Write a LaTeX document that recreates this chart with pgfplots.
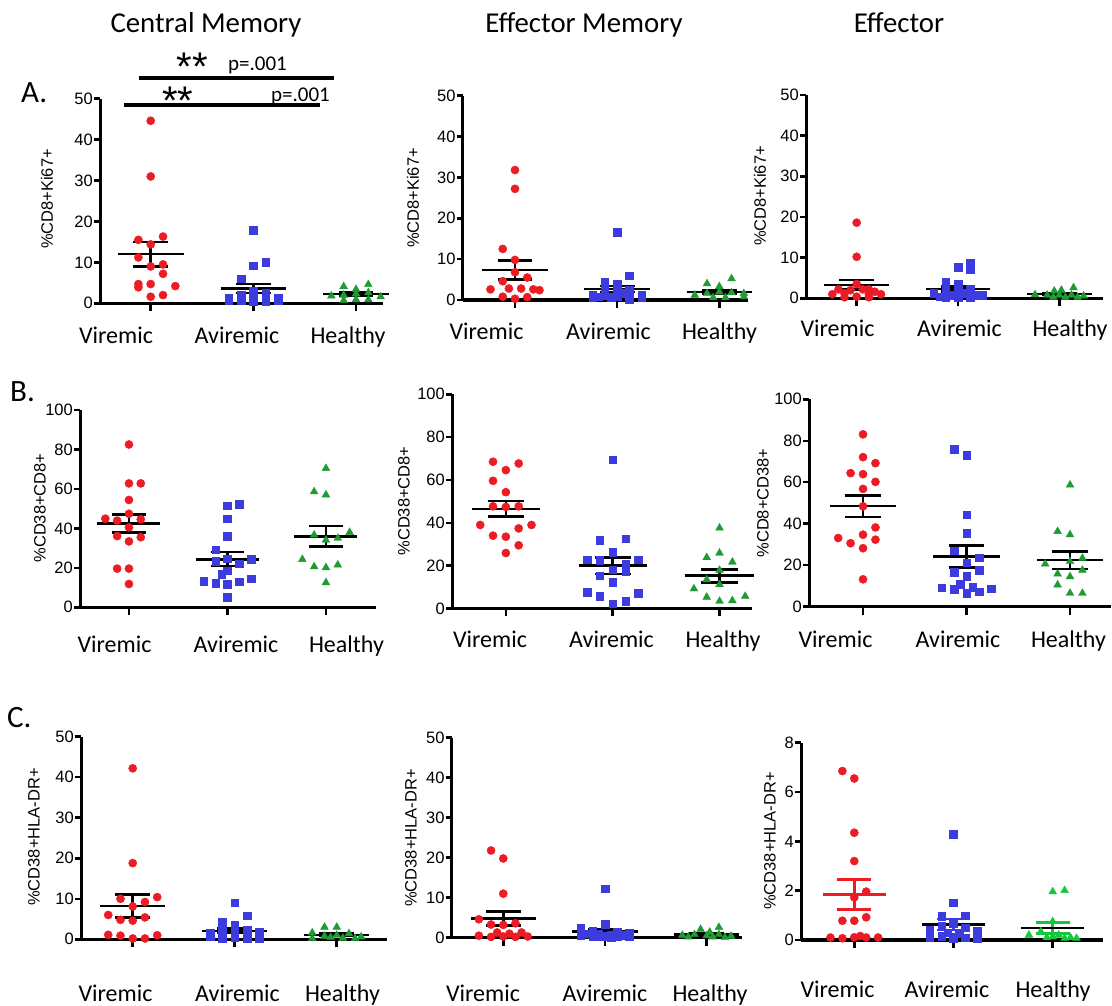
\documentclass[border=0pt]{standalone}
\usepackage{pgfplots}
\pgfplotsset{compat=1.18}
\usepackage{fontspec}
\setmainfont{Carlito}
\newfontfamily\arial{Liberation Sans}
\definecolor{vred}{RGB}{237,28,36}
\definecolor{vblue}{RGB}{60,60,222}
\definecolor{vgreen}{RGB}{30,155,50}
\definecolor{vgreen2}{RGB}{20,200,60}
\newcommand\tf{\arial\fontsize{16.5}{17}\selectfont}
\newcommand\cf{\fontsize{24}{26}\selectfont}
\pgfplotsset{
 dp/.style={scale only axis, anchor=south west, axis lines=left,
  x axis line style={line width=3.5pt,-}, y axis line style={line width=3pt,-},
  tick align=outside, major tick length=6pt,
  tick style={line width=2.5pt, black},
  xtick={0,1,2}, xticklabels={,,}, xtick style={/pgfplots/major tick length=8pt},
  ymin=0, clip=false,
  yticklabel style={font=\tf, inner sep=1pt},
  /pgf/number format/assume math mode=true,
 },
 rp/.style={only marks, mark=*, mark size=4.1pt, color=vred, mark options={draw=none, fill=vred}},
 bp/.style={only marks, mark=square*, mark size=3.8pt, color=vblue, mark options={draw=none, fill=vblue}},
 gp/.style={only marks, mark=triangle*, mark size=4.5pt, color=vgreen, mark options={draw=none, fill=vgreen}},
 gp2/.style={only marks, mark=triangle*, mark size=4.5pt, color=vgreen2, mark options={draw=none, fill=vgreen2}},
}
\newcommand{\msem}[6]{%
 \pgfmathsetmacro\xa{#3-0.32}\pgfmathsetmacro\xb{#3+0.32}%
 \pgfmathsetmacro\ca{#3-0.17}\pgfmathsetmacro\cb{#3+0.17}%
 \addplot[#2, line width=2.5pt] coordinates {(#3,#5) (#3,#6)};
 \addplot[#2, line width=2.5pt] coordinates {(\ca,#5) (\cb,#5)};
 \addplot[#2, line width=2.5pt] coordinates {(\ca,#6) (\cb,#6)};
 \addplot[#1, line width=2.5pt] coordinates {(\xa,#4) (\xb,#4)};
}
\newcommand\cats[4]{%
 \node[font=\cf,anchor=base,inner sep=0] at (#2pt,#1pt){Viremic};
 \node[font=\cf,anchor=base,inner sep=0] at (#3pt,#1pt){Aviremic};
 \node[font=\cf,anchor=base,inner sep=0] at (#4pt,#1pt){Healthy};}
\newcommand\yl[3]{\node[font=\tf, rotate=90, inner sep=0] at (#1pt,#2pt){#3};}
\begin{document}
\begin{tikzpicture}[x=1pt,y=1pt]
\useasboundingbox (0,0) rectangle (1112,1006);
% ---------------- Row A
\begin{axis}[dp, at={(100pt,702.7pt)}, width=283pt, height=204.6pt, xmin=-0.494, xmax=2.263, ymax=50, ytick={0,10,...,50}]
\addplot[rp] coordinates {(0,44.6) (0,31) (-0.12,15.5) (0,14.4) (0.12,16.3) (-0.12,11.2) (0,9.0) (0.12,9.5) (0.12,7.2) (-0.12,4.7) (-0.12,3.9) (0,4.7) (0.24,4.2) (0.12,2.0) (0,1.6)};
\addplot[bp] coordinates {(1,17.9) (1.12,10.0) (1,9.2) (0.88,6.0) (0.76,1.2) (0.88,2.1) (1,3.1) (1.12,2.5) (1.24,1.2) (0.88,0.8) (1,0.4) (1.12,0.4) (1.24,0.7) (0.76,0.6) (1,1.8) (1.12,1.3) (0.88,1.4)};
\addplot[gp] coordinates {(1.88,4.1) (2.12,4.6) (2,3.4) (1.76,1.8) (1.88,2.0) (2,2.3) (2.12,2.6) (2.24,1.6) (2,0.9) (1.88,0.7) (2.12,0.9)};
\msem{black}{black}{0}{12.0}{9.0}{15.0}
\msem{black}{black}{1}{3.6}{2.5}{4.7}
\msem{black}{black}{2}{2.3}{1.9}{2.7}
\end{axis}
\begin{axis}[dp, at={(462.7pt,706pt)}, width=285.3pt, height=204.3pt, xmin=-0.512, xmax=2.281, ymax=50, ytick={0,10,...,50}]
\addplot[rp] coordinates {(0,31.8) (0,27.2) (-0.12,12.5) (0,9.8) (0,6.8) (-0.12,4.6) (0.12,5.5) (-0.24,2.6) (-0.06,2.8) (0.06,2.8) (0.18,2.6) (0.24,2.4) (-0.12,0.8) (0,0.3) (0.12,0.7)};
\addplot[bp] coordinates {(1,16.6) (1.12,5.9) (0.88,4.5) (1,3.9) (0.76,1.2) (0.88,2.4) (1,2.9) (1.12,2.4) (1.24,1.2) (0.82,0.8) (0.94,0.7) (1.06,1.6) (1.12,0.2) (1,0.8) (0.88,1.1) (1.24,0.6) (0.76,0.6)};
\addplot[gp] coordinates {(1.88,4.0) (2,3.3) (2.12,5.2) (1.76,1.2) (1.88,1.6) (2,2.0) (2.12,1.8) (2.24,0.8) (1.94,0.6) (2.06,0.6) (2.24,1.6)};
\msem{black}{black}{0}{7.4}{5.0}{9.7}
\msem{black}{black}{1}{2.7}{2.0}{3.4}
\msem{black}{black}{2}{1.9}{1.5}{2.3}
\end{axis}
\begin{axis}[dp, at={(806pt,707.7pt)}, width=297pt, height=203.3pt, xmin=-0.5, xmax=2.431, ymax=50, ytick={0,10,...,50}]
\addplot[rp] coordinates {(0,18.6) (0,10.2) (0,3.5) (-0.18,2.2) (0.12,2.2) (-0.24,1.0) (-0.12,1.2) (0.12,1.0) (0.24,1.0) (-0.06,2.0) (0.06,2.2) (0,0.4) (-0.12,0.25) (0.12,0.25) (0.18,1.6)};
\addplot[bp] coordinates {(1.12,8.6) (1,7.6) (1.12,7.0) (0.88,4.1) (1,3.5) (0.76,1.2) (0.88,2.2) (1,2.0) (1.12,2.2) (1.24,0.8) (0.82,0.4) (0.94,0.8) (1.06,1.2) (1.18,0.8) (1,0.25) (0.88,0.25) (1.12,0.25)};
\addplot[gp] coordinates {(2.14,2.6) (2.02,2.0) (1.95,1.8) (1.76,0.9) (1.88,0.8) (2,0.8) (2.12,0.8) (2.24,0.6) (1.94,0.25) (2.06,0.25) (2.18,0.25)};
\msem{black}{black}{0}{3.3}{2.1}{4.5}
\msem{black}{black}{1}{2.3}{1.7}{2.9}
\msem{black}{black}{2}{1.0}{0.8}{1.3}
\end{axis}
% ---------------- Row B
\begin{axis}[dp, at={(80pt,398.7pt)}, width=296pt, height=197.3pt, xmin=-0.497, xmax=2.508, ymax=100, ytick={0,20,...,100}]
\addplot[rp] coordinates {(0,82.5) (0,62.8) (0.12,62.8) (0,54.4) (0,47.4) (-0.24,44.9) (-0.12,43.9) (0.12,44.6) (0,40.5) (-0.12,36.1) (0.12,35.5) (0,33.4) (-0.12,19.6) (0,19.6) (0,11.8)};
\addplot[bp] coordinates {(1,51.4) (1.12,52.4) (1,44.8) (1,36.1) (0.88,29.1) (0.88,23.3) (1,24.7) (1.24,24.3) (1.12,22.0) (1,18.6) (0.94,16.9) (0.76,13.2) (0.88,12.2) (1,11.7) (1.12,13.0) (1.24,14.4) (1,5.1)};
\addplot[gp] coordinates {(2,70.4) (1.88,58.6) (2,57.0) (2.24,38.0) (1.88,36.7) (2,34.1) (2.12,35.0) (1.76,24.3) (1.88,20.6) (2,20.1) (2.12,21.5) (2,12.5)};
\msem{black}{black}{0}{42.5}{37.8}{47.1}
\msem{black}{black}{1}{24.3}{20.9}{27.9}
\msem{black}{black}{2}{36.0}{30.7}{41.2}
\end{axis}
\begin{axis}[dp, at={(452pt,397.5pt)}, width=299.7pt, height=214.2pt, xmin=-0.504, xmax=2.301, ymax=100, ytick={0,20,...,100}]
\addplot[rp] coordinates {(-0.12,68.5) (0.12,67.7) (0,64.6) (-0.12,59.6) (0,54.3) (-0.12,47.7) (0,47.4) (0.12,47.7) (-0.24,39.0) (0.24,39.0) (0.12,37.4) (-0.12,34.0) (0,33.5) (0.12,29.5) (0,25.9)};
\addplot[bp] coordinates {(1,69.4) (0.88,32.0) (1.12,32.5) (1,26.4) (0.76,22.8) (0.88,22.5) (1.24,22.8) (1.12,20.8) (1,18.2) (1.12,17.4) (0.88,15.4) (1,12.4) (0.76,7.6) (1.24,7.0) (0.88,5.7) (1.12,3.4) (1,2.2)};
\addplot[gp] coordinates {(2,37.6) (2,25.9) (1.88,23.8) (2.12,21.7) (2,17.9) (1.88,13.5) (2,11.2) (1.76,9.2) (1.88,5.3) (2.24,5.7) (2,3.4) (2.12,3.7)};
\msem{black}{black}{0}{46.5}{42.9}{50.2}
\msem{black}{black}{1}{20.1}{16.1}{23.9}
\msem{black}{black}{2}{15.3}{12.1}{18.2}
\end{axis}
\begin{axis}[dp, at={(809pt,399.3pt)}, width=302pt, height=207.4pt, xmin=-0.522, xmax=2.396, ymax=100, ytick={0,20,...,100}]
\addplot[rp] coordinates {(0,83.1) (0,72.1) (0.12,69.2) (-0.12,64.4) (0,63.9) (0.12,60.2) (0,56.8) (0,48.4) (0.12,38.2) (0,34.7) (0.12,32.3) (-0.24,33.1) (-0.12,30.6) (0,28.2) (0,13.2)};
\addplot[bp] coordinates {(0.88,75.8) (1,73.1) (1,44.4) (1,35.5) (0.88,26.9) (1.12,23.7) (1,21.3) (0.88,16.6) (1.12,17.7) (1,14.8) (0.76,9.2) (1.24,8.7) (0.88,8.4) (0.94,10.8) (1.06,9.4) (1,6.5) (1.12,7.3)};
\addplot[gp] coordinates {(2,58.7) (1.88,36.3) (2,34.7) (1.76,20.6) (2,21.8) (2.12,23.4) (1.88,15.8) (2,14.5) (2.12,17.6) (1.88,10.5) (2,6.5) (2.12,6.5)};
\msem{black}{black}{0}{48.5}{43.2}{53.7}
\msem{black}{black}{1}{24.2}{19.0}{29.5}
\msem{black}{black}{2}{22.4}{18.1}{26.6}
\end{axis}
% ---------------- Row C
\begin{axis}[dp, at={(81pt,66.7pt)}, width=305.7pt, height=202.6pt, xmin=-0.507, xmax=2.49, ymax=50, ytick={0,10,...,50}]
\addplot[rp] coordinates {(0,42.2) (0,18.8) (0.24,10.4) (-0.12,10.0) (0.12,9.2) (0,8.1) (-0.24,6.0) (0.12,5.4) (-0.12,4.8) (0,4.6) (-0.24,1.1) (-0.12,0.9) (0.24,1.0) (0,0.2) (0.12,0.2)};
\addplot[bp] coordinates {(1,9.0) (1.12,5.8) (0.88,4.2) (1,3.5) (0.88,2.5) (1.12,2.2) (1.24,1.8) (0.76,1.5) (1,1.2) (0.88,1.0) (1.12,0.8) (0.76,0.6) (1.24,0.5) (1,0.4) (0.88,0.3) (1.12,0.2) (1.24,0.2)};
\addplot[gp] coordinates {(1.88,3.0) (2,3.0) (1.76,1.6) (2.12,1.4) (2,1.0) (1.88,0.8) (2.24,0.6) (1.94,0.5) (2.06,0.3) (2.18,0.2) (1.76,0.2)};
\msem{black}{black}{0}{8.2}{5.4}{11.0}
\msem{black}{black}{1}{2.1}{1.5}{2.7}
\msem{black}{black}{2}{1.1}{0.8}{1.5}
\end{axis}
\begin{axis}[dp, at={(451.7pt,68.3pt)}, width=290pt, height=200pt, xmin=-0.507, xmax=2.344, ymax=50, ytick={0,10,...,50}]
\addplot[rp] coordinates {(-0.12,21.8) (0,19.8) (0,11.0) (-0.24,4.6) (0.12,3.6) (-0.12,3.3) (0,3.2) (-0.06,1.3) (0.18,1.3) (0.06,1.0) (-0.24,0.5) (-0.12,0.2) (0,0.3) (0.12,0.2) (0.24,0.3)};
\addplot[bp] coordinates {(1,12.2) (1,3.4) (0.76,2.3) (0.88,1.6) (1.12,1.4) (1.24,1.2) (0.82,1.0) (0.94,0.8) (1.06,0.7) (1.18,0.6) (0.76,0.5) (0.88,0.4) (1,0.3) (1.12,0.3) (1.24,0.2) (0.94,0.2) (1.06,0.1)};
\addplot[gp] coordinates {(2.12,2.6) (1.94,2.1) (2.03,1.4) (1.76,0.6) (1.88,0.8) (2,0.5) (2.24,0.4) (2.12,0.8) (1.82,0.2) (2.06,0.2) (2.18,0.1)};
\msem{black}{black}{0}{4.8}{3.0}{6.6}
\msem{black}{black}{1}{1.5}{1.0}{2.1}
\msem{black}{black}{2}{0.85}{0.6}{1.1}
\end{axis}
\begin{axis}[dp, at={(801pt,66pt)}, width=301.7pt, height=197.3pt, xmin=-0.537, xmax=2.504, ymax=8, ytick={0,2,...,8}]
\addplot[rp] coordinates {(-0.12,6.85) (0,6.55) (0,4.35) (0,3.2) (0.12,1.96) (0,1.73) (-0.12,0.78) (0,0.78) (0.12,0.92) (-0.24,0.1) (-0.12,0.07) (0,0.11) (0.06,0.16) (0.12,0.1) (0.24,0.1)};
\addplot[bp] coordinates {(1,4.3) (1,1.51) (0.88,0.97) (1.12,0.99) (1,0.68) (0.88,0.55) (1.12,0.5) (0.76,0.4) (1.24,0.35) (0.94,0.3) (1.06,0.25) (0.76,0.1) (0.88,0.15) (1,0.12) (1.12,0.1) (1.24,0.08) (1,0.05)};
\addplot[gp2] coordinates {(2,1.96) (2.12,2.01) (2,0.75) (1.88,0.34) (1.76,0.2) (2,0.13) (2.12,0.07) (2.24,0.07) (1.94,0.1) (2.06,0.2) (2.18,0.1)};
\msem{vred}{vred}{0}{1.85}{1.24}{2.46}
\msem{black}{vblue}{1}{0.62}{0.4}{0.85}
\msem{black}{vgreen2}{2}{0.48}{0.27}{0.70}
\end{axis}
% ---------------- texts
\node[font=\fontsize{28.8}{30}\selectfont, anchor=base, inner sep=0] at (206,973) {Central Memory};
\node[font=\fontsize{28.8}{30}\selectfont, anchor=base, inner sep=0] at (584,973) {Effector Memory};
\node[font=\fontsize{28.8}{30}\selectfont, anchor=base, inner sep=0] at (899,973) {Effector};
\node[font=\fontsize{31}{32}\selectfont, anchor=base west, inner sep=0] at (21,903) {A.};
\node[font=\fontsize{31}{32}\selectfont, anchor=base west, inner sep=0] at (10,604) {B.};
\node[font=\fontsize{31}{32}\selectfont, anchor=base west, inner sep=0] at (7,278) {C.};
\draw[line width=4pt] (139,928.3) -- (334,928.3);
\draw[line width=4pt] (124,901) -- (320,901);
\node[font=\arial\fontsize{40}{40}\selectfont, anchor=base, inner sep=0] at (192.5,925) {**};
\node[font=\arial\fontsize{40}{40}\selectfont, anchor=base, inner sep=0] at (177.8,891.5) {**};
\node[font=\fontsize{21}{22}\selectfont, anchor=base, inner sep=0] at (257.5,935.3) {p=.001};
\node[font=\fontsize{21}{22}\selectfont, anchor=base, inner sep=0] at (300.5,904.5) {p=.001};
\cats{662}{116}{237}{348}
\cats{666}{486.5}{608.5}{719.5}
\cats{669}{837.5}{959.5}{1070}
\cats{353}{114.5}{236}{346.5}
\cats{358}{490}{611.5}{723}
\cats{358}{835.5}{958}{1068.5}
\cats{4.3}{115.5}{237.5}{342.5}
\cats{4.3}{483}{605}{710}
\cats{8}{837.5}{947}{1053}
\yl{47}{807}{\%CD8+Ki67+}
\yl{413}{808}{\%CD8+Ki67+}
\yl{760}{810}{\%CD8+Ki67+}
\yl{40}{498}{\%CD38+CD8+}
\yl{404}{505}{\%CD38+CD8+}
\yl{763}{503}{\%CD8+CD38+}
\yl{34}{169}{\%CD38+HLA-DR+}
\yl{411}{168}{\%CD38+HLA-DR+}
\yl{770}{165}{\%CD38+HLA-DR+}
\end{tikzpicture}
\end{document}
